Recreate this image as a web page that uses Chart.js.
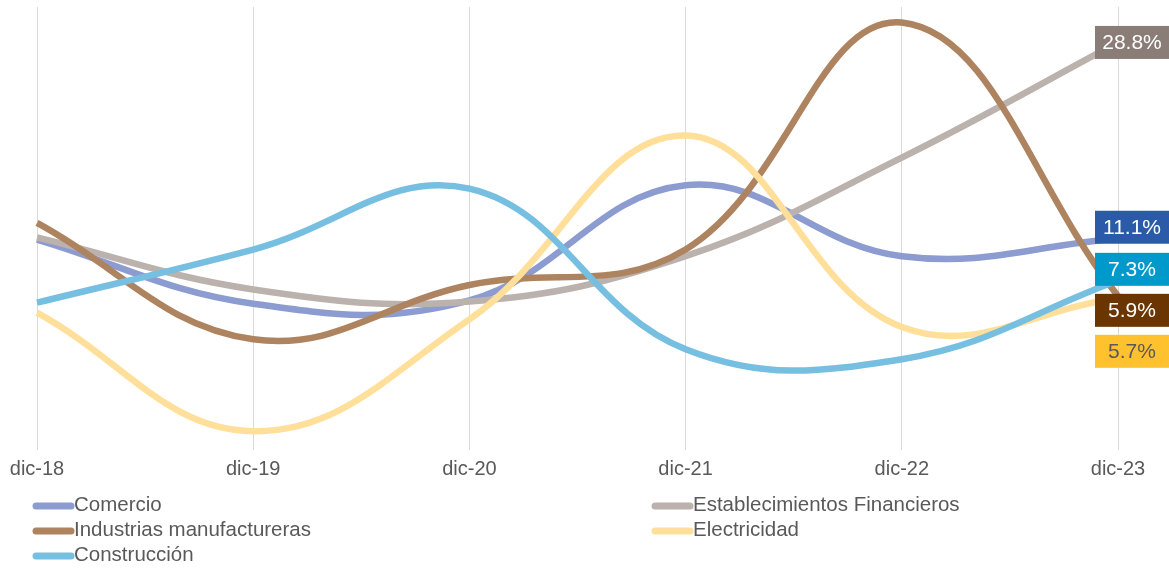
<!DOCTYPE html>
<html>
<head>
<meta charset="utf-8">
<script src="https://cdn.jsdelivr.net/npm/chart.js@4"></script>
<style>
  html, body { margin: 0; padding: 0; background: #fff; }
  #wrap { width: 1169px; height: 568px; position: relative; }
</style>
</head>
<body>
<div id="wrap"><canvas id="chart"></canvas></div>
<script>
const labels = ["dic-18", "dic-19", "dic-20", "dic-21", "dic-22", "dic-23"]

const comercio = [11.0, 5.2, 5.5, 15.9, 9.5, 11.1]
const financieros = [11.2, 6.5, 5.4, 9.5, 18.4, 28.8]
const industrias = [12.5, 2.0, 6.9, 10.1, 30.6, 5.9]
const electricidad = [4.4, -6.3, 3.8, 20.4, 3.1, 5.7]
const construccion = [5.3, 10.1, 15.6, 1.1, 0.2, 7.3]

const names = ["Comercio", "Establecimientos Financieros", "Industrias manufactureras", "Electricidad", "Construcción"]
const series = [comercio, financieros, industrias, electricidad, construccion]
const lineColors = ["#8c9bd0", "#bbb2ae", "#ae8360", "#ffdf99", "#77bfe0"]
const boxColors = ["#2b5ba8", "#8a7d78", "#6b3500", "#ffc12e", "#0099cc"]
const boxText = ["#ffffff", "#ffffff", "#ffffff", "#595959", "#ffffff"]

const textColor = "#595959"
const fontFamily = "'Liberation Sans', Arial, sans-serif"

// end-of-line value boxes
const endLabels = {
    id: "endLabels",
    afterDatasetsDraw(chart) {
        const ctx = chart.ctx
        const h = 33, w = 74, gap = h + 8
        let items = chart.data.datasets.map((ds, i) => {
            const meta = chart.getDatasetMeta(i)
            const pt = meta.data[meta.data.length - 1]
            return {i: i, y: pt.y, place: pt.y, text: ds.data[ds.data.length - 1].toFixed(1) + "%"}
        }).sort((a, b) => a.y - b.y)
        // push overlapping boxes down
        for (let k = 1; k < items.length; k++) {
            items[k].place = Math.max(items[k].y, items[k - 1].place + gap)
        }
        // split into stacked clusters and lift each cluster a bit
        let clusters = [[items[0]]]
        for (let k = 1; k < items.length; k++) {
            if (items[k].place - items[k - 1].place <= gap + 3) clusters[clusters.length - 1].push(items[k])
            else clusters.push([items[k]])
        }
        clusters.filter(c => c.length > 1).forEach(c => {
            const shift = c.reduce((s, it) => s + (it.place - it.y), 0) / c.length / 2
            c.forEach(it => it.place -= shift)
        })
        ctx.save()
        ctx.font = "21px " + fontFamily
        ctx.textAlign = "center"
        ctx.textBaseline = "middle"
        items.forEach(it => {
            const x = chart.width - w
            ctx.fillStyle = boxColors[it.i]
            ctx.fillRect(x, it.place - h / 2, w, h)
            ctx.fillStyle = boxText[it.i]
            ctx.fillText(it.text, x + w / 2, it.place + 1)
        })
        ctx.restore()
    }
}

// two-column legend like the original
const colLegend = {
    id: "colLegend",
    afterDraw(chart) {
        const ctx = chart.ctx
        const cols = [33, 652]
        const rows = [505, 530, 555]
        ctx.save()
        ctx.font = "20.5px " + fontFamily
        ctx.textBaseline = "middle"
        ctx.textAlign = "left"
        chart.data.datasets.forEach((ds, i) => {
            const x = cols[i % 2], y = rows[Math.floor(i / 2)]
            ctx.strokeStyle = ds.borderColor
            ctx.lineWidth = 7
            ctx.lineCap = "round"
            ctx.beginPath()
            ctx.moveTo(x + 3, y + 1)
            ctx.lineTo(x + 38, y + 1)
            ctx.stroke()
            ctx.fillStyle = textColor
            ctx.fillText(ds.label, x + 41, y)
        })
        ctx.restore()
    }
}

const ctx = document.getElementById("chart").getContext("2d")
new Chart(ctx, {
    type: "line",
    data: {
        labels: labels,
        datasets: series.map((d, i) => ({
            label: names[i],
            data: d,
            borderColor: lineColors[i],
            backgroundColor: lineColors[i],
            borderWidth: 6.5,
            tension: 0.4,
            pointRadius: 0,
            fill: false,
            order: series.length - i
        }))
    },
    options: {
        responsive: true,
        maintainAspectRatio: false,
        animation: false,
        layout: {
            padding: {left: 37, right: 51, top: 7, bottom: 80}
        },
        scales: {
            x: {
                grid: {
                    color: "#d9d9d9",
                    lineWidth: 1,
                    drawTicks: false
                },
                border: {display: false},
                ticks: {
                    color: textColor,
                    padding: 7,
                    font: {family: fontFamily, size: 20},
                    maxRotation: 0
                }
            },
            y: {
                display: false,
                min: -8,
                max: 32
            }
        },
        plugins: {
            legend: {display: false},
            tooltip: {enabled: false}
        }
    },
    plugins: [endLabels, colLegend]
})
</script>
</body>
</html>
